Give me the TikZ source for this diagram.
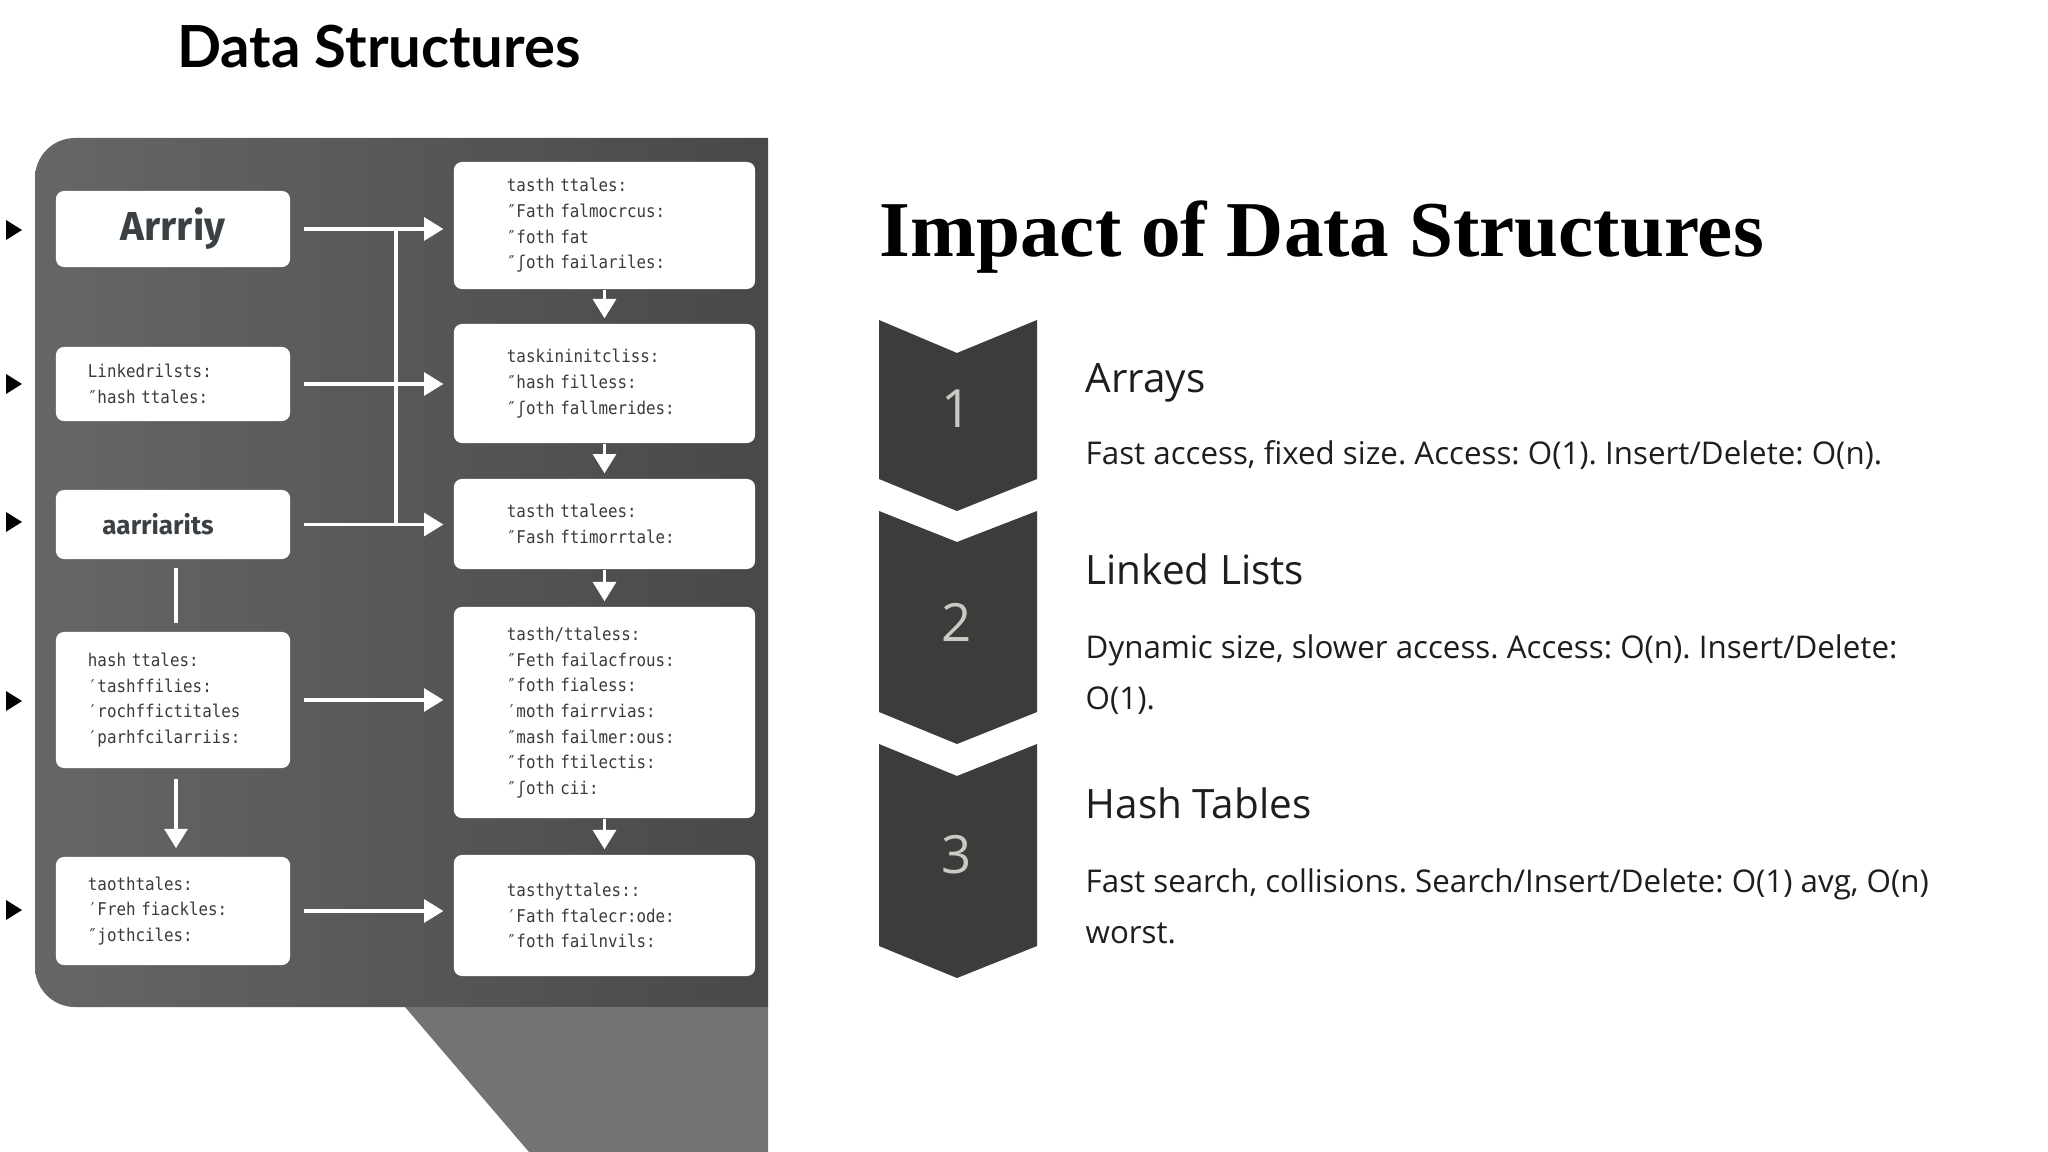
\documentclass[tikz,border=0pt]{standalone}
\usepackage{fontspec}
\setmainfont{Open Sans}
\newfontfamily\titlefont{Lato}
\newfontfamily\serifbold{Liberation Serif}
\newfontfamily\monof[FakeStretch=0.9]{DejaVu Sans Mono}
\newfontfamily\boxsans{Fira Sans}
\usetikzlibrary{arrows.meta,calc}
\definecolor{panelL}{HTML}{646668}
\definecolor{panelR}{HTML}{444648}
\definecolor{trap}{HTML}{737373}
\definecolor{chev}{HTML}{3C3C3A}
\definecolor{numc}{HTML}{C9C9C6}
\definecolor{txt}{HTML}{1E1E1E}
\definecolor{monoc}{HTML}{3A3A3A}
\definecolor{boxhead}{HTML}{3A4043}
\newcommand\monotxt{\monof\fontsize{5}{7.3}\selectfont}
\frenchspacing
\begin{document}
\begin{tikzpicture}[x=0.01cm,y=-0.01cm,
  wbox/.style={fill=white, rounded corners=2.3pt, inner ysep=0pt},
  lbox/.style={wbox, minimum width=2.34cm, inner xsep=0.32cm, text width=1.70cm, align=left, font=\monotxt, text=monoc},
  lboxc/.style={wbox, minimum width=2.34cm, inner xsep=0pt, text=boxhead},
  rbox/.style={wbox, minimum width=3.01cm, inner xsep=0.53cm, text width=1.95cm, align=left, font=\monotxt, text=monoc},
  arr/.style={draw=white, line width=1pt, -{Triangle[length=5.5pt,width=6.5pt]}},
  wline/.style={draw=white, line width=1pt},
  tri/.style={fill=black},
  chevron/.style={fill=chev},
  numtxt/.style={text=numc, font=\fontsize{15}{15}\selectfont},
  head/.style={anchor=base west, text=txt, inner sep=0pt, font=\fontsize{11.5}{12}\selectfont},
  body/.style={anchor=base west, text=txt, inner sep=0pt, align=left, font=\fontsize{8.9}{14.5}\selectfont}
]
\useasboundingbox (0,0) rectangle (2048,1152);
\fill[white] (0,0) rectangle (2048,1152);

% title
\node[anchor=base, inner sep=0pt, font=\titlefont\bfseries\fontsize{16.5}{17}\selectfont] (t1) at (379,68) {Data Structures};

% panel
\begin{scope}
\clip (0,0) rectangle (768,1152);
\shade[left color=panelL, right color=panelR, rounded corners=0.4cm] (35,138) rectangle (830,1007);
\end{scope}
\fill[trap] (405,1007) -- (768,1007) -- (768,1152) -- (529,1152) -- cycle;

% left triangles
\foreach \yy in {230,384,522,701,910} {
  \fill[tri] (6,\yy-10) -- (22,\yy) -- (6,\yy+10) -- cycle;
}

% left boxes
\node[lboxc, minimum height=0.76cm, font=\boxsans\bfseries\fontsize{11.5}{12}\selectfont] (L1) at (173,229) {Arrriy};
\node[lbox, minimum height=0.74cm] (L2) at (173,384) {Linkedrilsts:\\″hash ttales:};
\node[lboxc, minimum height=0.69cm, font=\boxsans\bfseries\fontsize{7.4}{9}\selectfont] (L3) at (173,524.5) {\hspace*{-0.3cm}aarriarits};
\node[lbox, minimum height=1.36cm] (L4) at (173,700) {hash ttales:\\′tashffilies:\\′rochffictitales\\′parhfcilarriis:};
\node[lbox, minimum height=1.08cm] (L5) at (173,911) {taothtales:\\′Freh fiackles:\\″jothciles:};

% right boxes
\node[rbox, minimum height=1.27cm] (R1) at (604.5,225.5) {tasth ttales:\\″Fath falmocrcus:\\″foth fat\\″ʃoth failariles:};
\node[rbox, minimum height=1.19cm] (R2) at (604.5,383.5) {taskininitcliss:\\″hash filless:\\″ʃoth fallmerides:};
\node[rbox, minimum height=0.90cm] (R3) at (604.5,524) {tasth ttalees:\\″Fash ftimorrtale:};
\node[rbox, minimum height=2.11cm] (R4) at (604.5,712.5) {tasth/ttaless:\\″Feth failacfrous:\\″foth fialess:\\′moth fairrvias:\\″mash failmer:ous:\\″foth ftilectis:\\″ʃoth cii:};
\node[rbox, minimum height=1.21cm] (R5) at (604.5,915.5) {tasthyttales::\\′Fath ftalecr:ode:\\″foth failnvils:};

% connectors
\coordinate (bx) at (396,0);
\foreach \a/\b in {L1/R1,L2/R2,L3/R3,L4/R4,L5/R5} {
  \draw[arr, shorten <=3.7pt, shorten >=2.8pt] (\a.east) -- (\a.east -| \b.west);
}
\draw[wline] (L1.east -| bx) -- (L3.east -| bx);
\foreach \a/\b in {R1/R2,R2/R3,R3/R4,R4/R5} {
  \draw[arr, shorten >=1.4pt] (\a.south) -- (\b.north);
}
\draw[wline, shorten <=2.3pt, shorten >=2.3pt] ([xshift=0.03cm]L3.south) -- ([xshift=0.03cm]L4.north);
\draw[arr, shorten <=2.8pt, shorten >=2.3pt] ([xshift=0.03cm]L4.south) -- ([xshift=0.03cm]L5.north);

% right side title
\node[anchor=base west, inner sep=0pt, text=black, font=\serifbold\bfseries\fontsize{22.5}{23}\selectfont] (t2) at (879,257) {Impact of Data Structures};

% chevrons
\fill[chevron] (879,320) -- (957,353) -- (1037,320) -- (1037,479) -- (957,511) -- (879,479) -- cycle;
\fill[chevron] (879,511) -- (957,542) -- (1037,511) -- (1037,712) -- (957,744) -- (879,712) -- cycle;
\fill[chevron] (879,744) -- (957,776) -- (1037,744) -- (1037,946) -- (957,978) -- (879,946) -- cycle;
\node[numtxt] (n1) at (957,409) {1};
\node[numtxt] (n2) at (957,622) {2};
\node[numtxt] (n3) at (957,855) {3};

% texts
\node[head] (h1) at (1085,393) {Arrays};
\node[body] (b1) at (1085,465) {Fast access, fixed size. Access: O(1). Insert/Delete: O(n).};
\node[head] (h2) at (1085,584) {Linked Lists};
\node[body, anchor=north west] (b2) at (1085,634) {Dynamic size, slower access. Access: O(n). Insert/Delete:\\O(1).};
\node[head] (h3) at (1085,818) {Hash Tables};
\node[body, anchor=north west] (b3) at (1085,868) {Fast search, collisions. Search/Insert/Delete: O(1) avg, O(n)\\worst.};
\end{tikzpicture}
\end{document}
